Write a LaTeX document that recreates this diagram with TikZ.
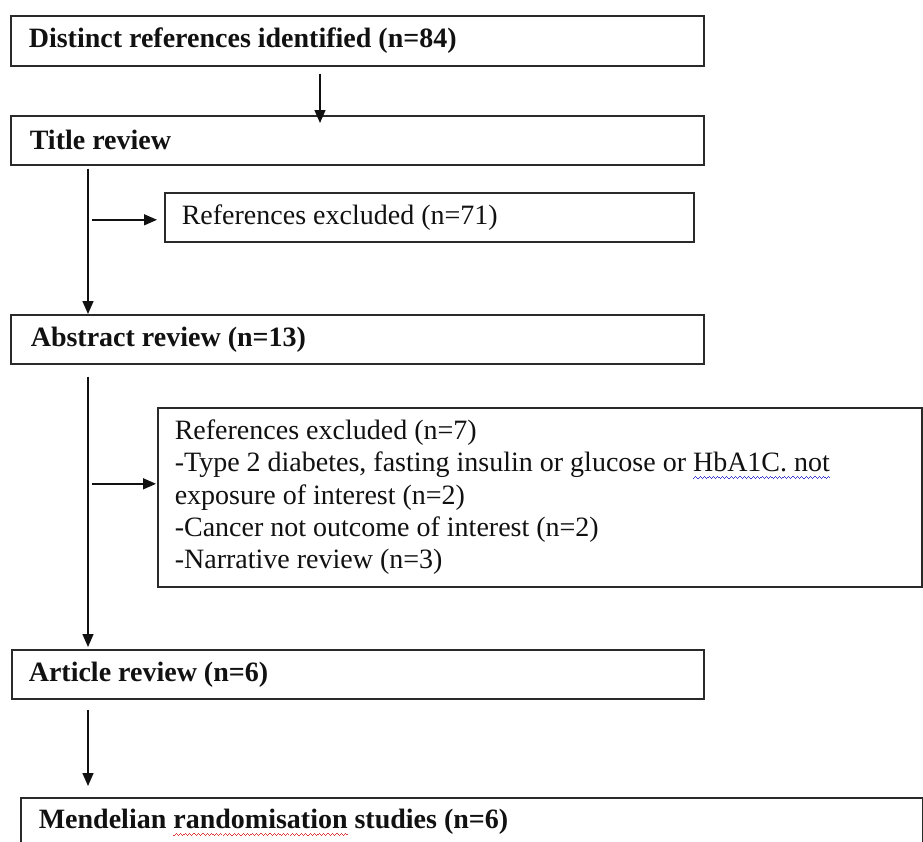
\documentclass[tikz,border=0pt]{standalone}
\usepackage{fontspec}
\setmainfont{Liberation Serif}
\usetikzlibrary{arrows.meta}
\definecolor{boxgray}{HTML}{2A2A2A}
\definecolor{inkc}{HTML}{111111}
\definecolor{wavered}{HTML}{E03A3A}
\definecolor{waveblue}{HTML}{3C3CD0}
\newcommand\bftxt{\fontsize{28}{32.25}\selectfont\bfseries}
\newcommand\rgtxt{\fontsize{28}{32.25}\selectfont}
\newcommand\fixsp{\spaceskip=0pt\relax\xspaceskip=0pt\relax}
\newcommand\wavepiece{\hbox{\rule[-7.4pt]{1.1pt}{1.1pt}\rule[-6.3pt]{1.1pt}{1.1pt}\rule[-5.2pt]{1.1pt}{1.1pt}\rule[-6.3pt]{1.1pt}{1.1pt}}}
\newcommand\wavy[2]{\setbox0\hbox{#2}\rlap{\textcolor{#1}{\hbox to \wd0{\xleaders\wavepiece\hfil}}}\box0\relax}
\begin{document}
\begin{tikzpicture}[x=1pt,y=-1pt,
  box/.style={draw=boxgray, line width=1.6pt, rectangle, anchor=north west,
    inner ysep=0pt, align=left, text=inkc},
  bbox/.style={box, font=\bftxt},
  rbox/.style={box, font=\rgtxt},
  arr/.style={draw=inkc, line width=1.4pt, -{Triangle[length=13pt,width=11pt]}}]
\useasboundingbox (0,0) rectangle (923,841);
\clip (0,0) rectangle (923,841);
\fill[white] (0,0) rectangle (923,841);

\node[bbox, inner xsep=18pt, minimum width=693pt, minimum height=50pt, text width=657pt]
  (b1) at (10,15) {\fixsp Distinct references identified (n=84)};
\node[bbox, inner xsep=19pt, minimum width=693pt, minimum height=49pt, text width=655pt]
  (b2) at (10,115) {\fixsp Title review};
\node[rbox, inner xsep=17pt, minimum width=529pt, minimum height=49pt, text width=495pt]
  (b3) at (164,192) {\fixsp References excluded (n=71)};
\node[bbox, inner xsep=20pt, minimum width=693pt, minimum height=49pt, text width=653pt]
  (b4) at (10,314) {\fixsp Abstract review (n=13)};
\node[rbox, inner xsep=17pt, minimum width=764pt, minimum height=179pt, text width=730pt]
  (b5) at (157,407) {\fixsp References excluded (n=7)\\
  -Type 2 diabetes, fasting insulin or glucose or \wavy{waveblue}{HbA1C. not}\\
  exposure of interest (n=2)\\
  -Cancer not outcome of interest (n=2)\\
  -Narrative review (n=3)};
\node[bbox, inner xsep=17pt, minimum width=692pt, minimum height=49pt, text width=658pt]
  (b6) at (11,649) {\fixsp Article review (n=6)};
\node[bbox, inner xsep=18pt, minimum width=902pt, minimum height=50pt, text width=866pt]
  (b7) at (20,797) {\fixsp Mendelian \wavy{wavered}{randomisation} studies (n=6)};

\coordinate (ax) at (320,0);
\coordinate (sp) at (88,0);
\coordinate (br) at (92,0);
\coordinate (e3) at ([yshift=-2.5pt]b3.west);
\coordinate (e5) at ([yshift=13.5pt]b5.west);

\draw[arr, shorten <=7pt, shorten >=-8pt] (b1.south -| ax) -- (b2.north -| ax);
\draw[arr, shorten <=3pt] (b2.south -| sp) -- (b4.north -| sp);
\draw[arr, shorten >=7pt] (e3 -| br) -- (e3);
\draw[arr, shorten <=12pt, shorten >=2pt] (b4.south -| sp) -- (b6.north -| sp);
\draw[arr, shorten >=1pt] (e5 -| br) -- (e5);
\draw[arr, shorten <=10pt, shorten >=11pt] (b6.south -| sp) -- (b7.north -| sp);
\end{tikzpicture}
\end{document}
